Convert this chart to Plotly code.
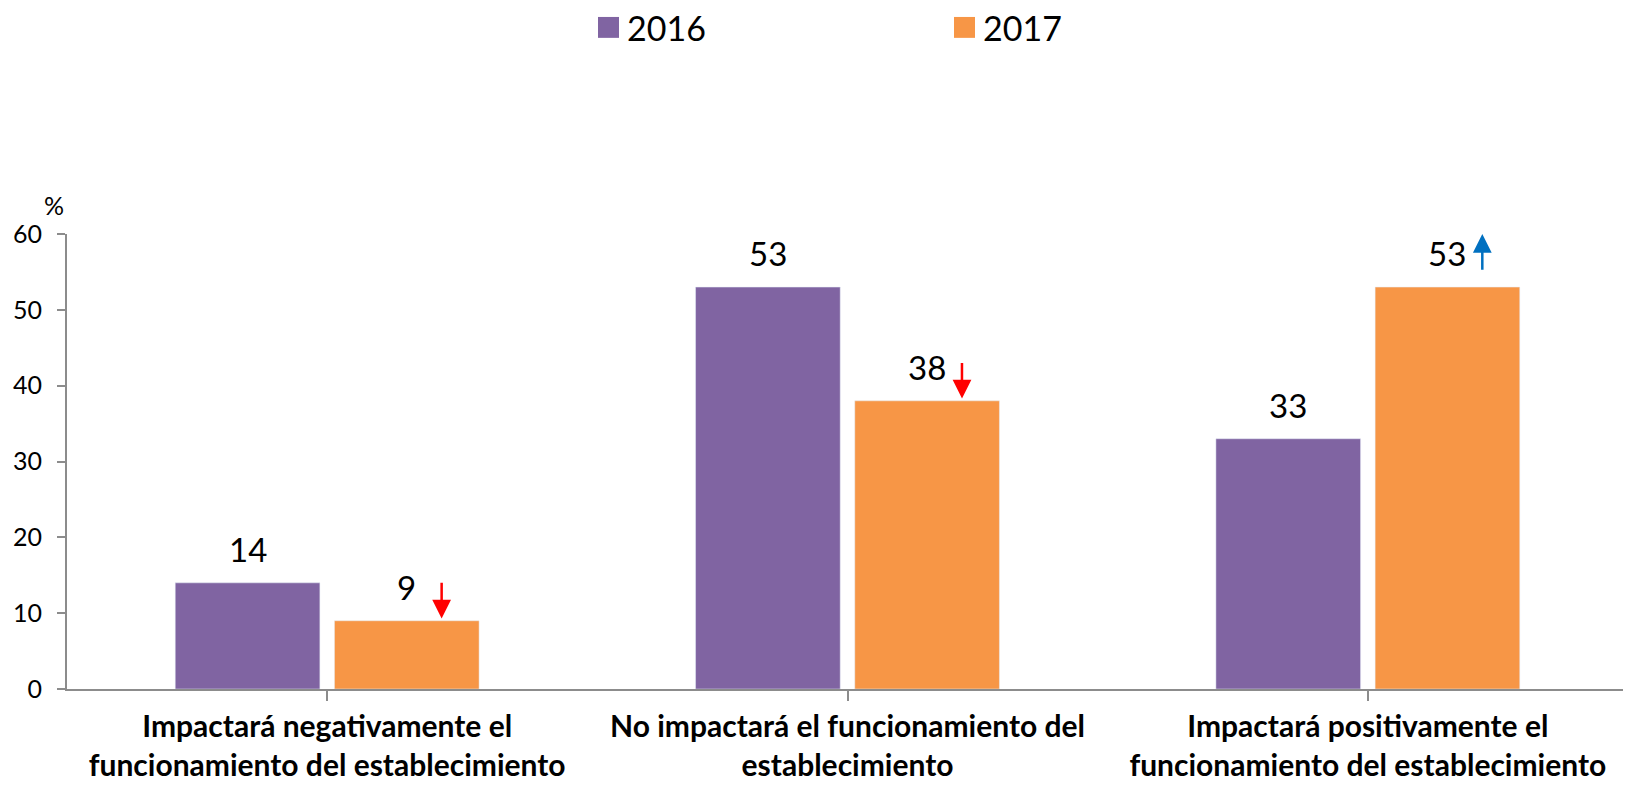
import plotly.graph_objects as go

categories = [
    "Impactará negativamente el<br>funcionamiento del establecimiento",
    "No impactará el funcionamiento del<br>establecimiento",
    "Impactará positivamente el<br>funcionamiento del establecimiento",
]
series_names = ["2016", "2017"]
values_2016 = [14, 53, 33]
values_2017 = [9, 38, 53]
change_2017 = ["down", "down", "up"]
y_ticks = [0, 10, 20, 30, 40, 50, 60]

PURPLE = "#8064A2"
ORANGE = "#F79646"
AXIS = "#8C8C8C"
FONT = "Lato"

PAGE_OFF = 8  # default body margin of the html page
W, H = 1631 - PAGE_OFF, 785 - PAGE_OFF
ML, MR, MT, MB = 67 - PAGE_OFF, 3, 234 - PAGE_OFF, 94
PW, PH = W - ML - MR, H - MT - MB

def px_x(px):
    return (px - PAGE_OFF - ML) / PW

def px_y(py):
    return (H - MB - (py - PAGE_OFF)) / PH

BARGAP = 0.388
GROUPGAP = 0.0915
slot = (1 - BARGAP) / 2
off = slot / 2

fig = go.Figure()
idx = list(range(len(categories)))
fig.add_trace(go.Bar(x=idx, y=values_2016, name=series_names[0], marker_color=PURPLE, showlegend=False))
fig.add_trace(go.Bar(x=idx, y=values_2017, name=series_names[1], marker_color=ORANGE, showlegend=False))

annotations = []
for i, v in enumerate(values_2016):
    annotations.append(dict(x=i - off, y=v, xref="x", yref="y", text=str(v), showarrow=False,
                            yanchor="bottom", yshift=12, font=dict(family=FONT, size=33, color="black")))
for i, v in enumerate(values_2017):
    annotations.append(dict(x=i + off, y=v, xref="x", yref="y", text=str(v), showarrow=False,
                            yanchor="bottom", yshift=12, font=dict(family=FONT, size=33, color="black")))
    if change_2017[i] == "down":
        tip, tail, col = v + 0.3, v + 5.2, "#FF0000"
    else:
        tip, tail, col = v + 7.0, v + 2.1, "#0070C0"
    annotations.append(dict(x=i + 0.22, y=tip, xref="x", yref="y", ax=i + 0.22, ay=tail,
                            axref="x", ayref="y", text="", showarrow=True, arrowhead=2,
                            arrowsize=1.5, arrowwidth=2.5, arrowcolor=col))

# y axis unit label
annotations.append(dict(x=px_x(42), y=px_y(188), xref="paper", yref="paper", text="%",
                        showarrow=False, font=dict(family=FONT, size=25, color="black")))

# manual legend
shapes = []
leg_items = [(series_names[0], PURPLE, 598), (series_names[1], ORANGE, 954)]
for name, col, x0 in leg_items:
    shapes.append(dict(type="rect", xref="paper", yref="paper", x0=px_x(x0), x1=px_x(x0 + 21),
                       y0=px_y(37), y1=px_y(16), fillcolor=col, line=dict(width=0)))
    annotations.append(dict(x=px_x(x0 + 27), y=px_y(26.5), xref="paper", yref="paper", text=name,
                            showarrow=False, xanchor="left", yanchor="middle",
                            font=dict(family=FONT, size=34, color="black")))

fig.update_layout(
    width=W, height=H,
    margin=dict(l=ML, r=MR, t=MT, b=MB, pad=0),
    paper_bgcolor="white", plot_bgcolor="white",
    barmode="group", bargap=BARGAP, bargroupgap=GROUPGAP,
    showlegend=False,
    annotations=annotations, shapes=shapes,
    font=dict(family=FONT, color="black"),
)
fig.update_xaxes(
    tickmode="array", tickvals=idx, ticktext=[f"<b>{c}</b>" for c in categories],
    range=[-0.5, len(categories) - 0.5],
    showline=True, linecolor=AXIS, linewidth=2,
    ticks="outside", ticklen=10, tickcolor=AXIS, tickwidth=2, tickson="boundaries",
    tickfont=dict(family=FONT, size=30, color="black"),
    showgrid=False, zeroline=False,
)
fig.update_yaxes(
    range=[0, 60], tickmode="array", tickvals=y_ticks,
    showline=True, linecolor=AXIS, linewidth=2,
    ticks="outside", ticklen=8, tickcolor=AXIS, tickwidth=2,
    tickfont=dict(family=FONT, size=25, color="black"), ticklabelstandoff=10,
    showgrid=False, zeroline=False,
)

fig.write_html("out.html")
